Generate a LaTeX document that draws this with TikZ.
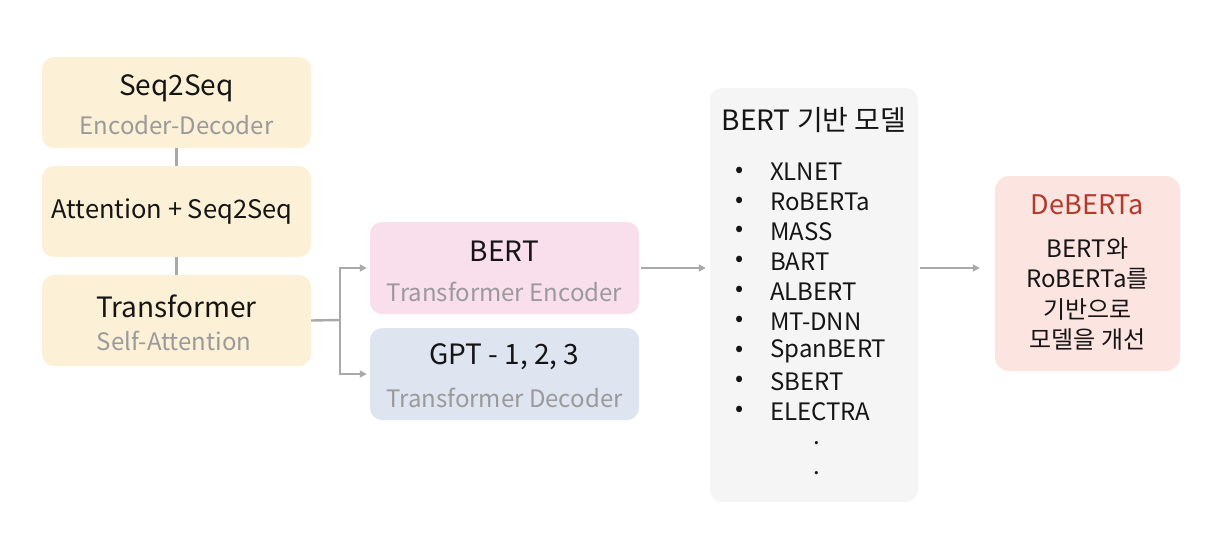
\documentclass[tikz,border=0pt]{standalone}
\usepackage{fontspec}
\setmainfont{Noto Sans CJK KR}
\usetikzlibrary{arrows.meta}
\definecolor{ybox}{HTML}{FCF1D6}
\definecolor{pbox}{HTML}{F8DFEB}
\definecolor{bbox}{HTML}{DFE4F1}
\definecolor{gbox}{HTML}{F5F5F5}
\definecolor{rbox}{HTML}{FCE4E0}
\definecolor{subgray}{HTML}{9A9A9A}
\definecolor{linegray}{HTML}{A9A9A9}
\definecolor{txt}{HTML}{151515}
\definecolor{deb}{HTML}{B2392B}
\tikzset{
  box/.style={rounded corners=12pt, minimum width=269pt, minimum height=91pt, inner sep=0pt, draw=none},
  main/.style={font=\fontsize{28}{32}\selectfont, text=txt, inner sep=0pt},
  sub/.style={font=\fontsize{24}{28}\selectfont, text=subgray, inner sep=0pt},
  item/.style={font=\fontsize{24}{28}\selectfont, text=txt, inner sep=0pt, anchor=west},
  conn/.style={draw=linegray, line width=2.4pt},
  arr/.style={conn, -{Triangle[length=7pt,width=7pt]}},
}
\begin{document}
\begin{tikzpicture}[x=1pt,y=-1pt]
\useasboundingbox (0,0) rectangle (1220,544);
% left column
\node[box, fill=ybox] (s2s) at (176.5,102.5) {};
\node[main] (s2st) at (176.5,88) {Seq2Seq};
\node[sub] (s2ss) at (176.5,125) {Encoder-Decoder};
\node[box, fill=ybox] (att) at (176.5,211.5) {};
\node[main, font=\fontsize{25.5}{30}\selectfont] (attt) at (172,212) {Attention + Seq2Seq};
\node[box, fill=ybox] (tr) at (176.5,320.5) {};
\node[main] (trt) at (176.5,306) {Transformer};
\node[sub] (trs) at (174,341) {Self-Attention};
\draw[conn] (s2s.south) -- (att.north);
\draw[conn] (att.south) -- (tr.north);
% BERT / GPT
\node[box, fill=pbox, minimum height=92pt] (bert) at (504.5,268) {};
\node[main] (bertt) at (504.5,251) {BERT};
\node[sub] (berts) at (504.5,292) {Transformer Encoder};
\node[box, fill=bbox, minimum height=92pt] (gpt) at (504.5,374) {};
\node[main] (gptt) at (504.5,357) {GPT - 1, 2, 3};
\node[sub] (gpts) at (504.5,398) {Transformer Decoder};
\coordinate (sp) at (340,320);
\draw[conn] (tr.east) -- (sp);
\draw[arr, shorten >=3pt] (sp) |- (bert.west);
\draw[arr, shorten >=3pt] (sp) |- (gpt.west);
% BERT-based list
\node[rounded corners=12pt, fill=gbox, minimum width=208pt, minimum height=414pt, inner sep=0pt] (list) at (814,295) {};
\node[main] (listt) at (814,120) {BERT 기반 모델};
\foreach \n/\t [count=\i from 0] in {a/XLNET,b/RoBERTa,c/MASS,d/BART,e/ALBERT,f/MT-DNN,g/SpanBERT,h/SBERT,k/ELECTRA}{
  \node[item] (it\n) at (770,172+29.9*\i) {\t};
  \node[item, anchor=center] (bu\n) at (740,172+29.9*\i) {•};
}
\node[item, anchor=base] (dot1) at (817,444) {.};
\node[item, anchor=base] (dot2) at (817,474) {.};
\draw[arr, shorten <=2pt, shorten >=4pt] (bert.east) -- (bert.east -| list.west);
% DeBERTa
\node[rounded corners=14pt, fill=rbox, minimum width=185pt, minimum height=195pt, inner sep=0pt] (debb) at (1087.5,273.5) {};
\node[main, text=deb, font=\fontsize{27}{31}\selectfont] (debt) at (1087.5,205) {DeBERTa};
\node[main, font=\fontsize{24}{30.5}\selectfont, align=center] (debs) at (1087.5,294) {BERT와\\RoBERTa를\\기반으로\\모델을 개선};
\draw[arr, shorten <=2pt, shorten >=15pt] (list.east |- bert.east) -- (debb.west |- bert.east);
\end{tikzpicture}
\end{document}
